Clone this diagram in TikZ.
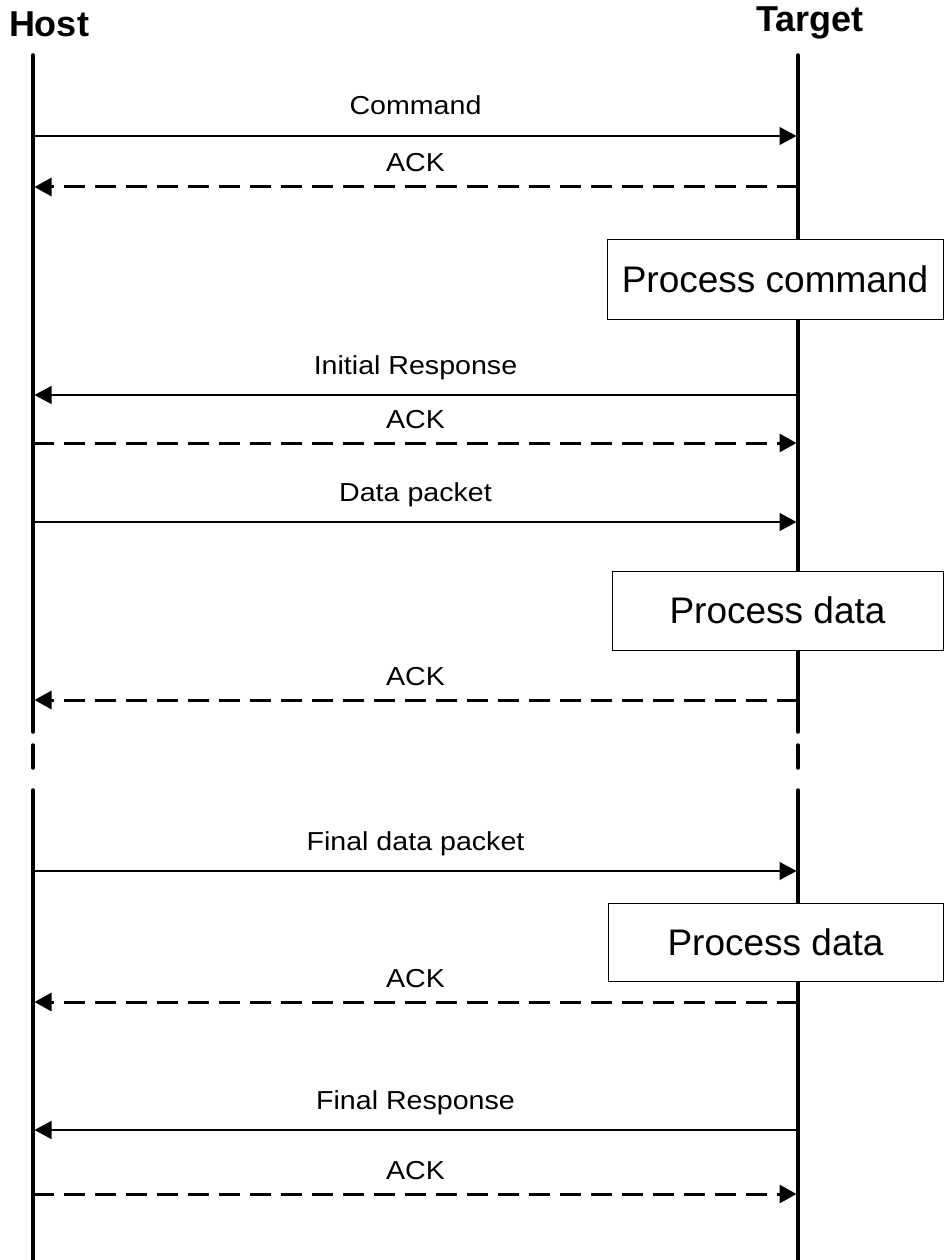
\documentclass[tikz,border=0pt]{standalone}
\usepackage{fontspec}
\setmainfont{Liberation Sans}
\newfontfamily\lblfont{Liberation Sans}[FakeStretch=1.1]
\usetikzlibrary{arrows.meta}

\begin{document}
\begin{tikzpicture}[
  x=1pt, y=-1pt,
  actor/.style={font=\fontsize{36}{40}\selectfont\bfseries, anchor=base, inner sep=0pt},
  life/.style={line width=3.5pt, line cap=round},
  task/.style={draw, line width=1pt, fill=white, minimum width=335pt, minimum height=79pt, inner sep=0pt, font=\fontsize{37}{42}\selectfont},
  call/.style={line width=1.2pt, -{Triangle[length=17pt, width=18pt]}, shorten >=1.5pt},
  reply/.style={line width=3pt, dash pattern=on 21pt off 10pt, -{Triangle[length=17pt, width=18pt]}, shorten >=1.5pt},
  msg/.style={font=\lblfont\fontsize{26}{30}\selectfont, anchor=base, inner sep=0pt, yshift=21pt},
  ackmsg/.style={font=\lblfont\fontsize{26}{30}\selectfont, anchor=base, inner sep=0pt, yshift=15pt}
]
\useasboundingbox (0,0) rectangle (945,1260);

% actors
\node[actor] (host) at (49,37) {Host};
\node[actor] (target) at (810,32) {Target};

% lifelines, with the break
\coordinate (htop) at (33,55);   \coordinate (ttop) at (798,55);
\coordinate (hcut) at (33,732);  \coordinate (tcut) at (798,732);
\coordinate (hdash) at (33,745); \coordinate (tdash) at (798,745);
\coordinate (hdend) at (33,768); \coordinate (tdend) at (798,768);
\coordinate (hback) at (33,790); \coordinate (tback) at (798,790);
\coordinate (hend) at (33,1262); \coordinate (tend) at (798,1262);
\draw[life] (htop) -- (hcut) (hdash) -- (hdend) (hback) -- (hend);
\draw[life] (ttop) -- (tcut) (tdash) -- (tdend) (tback) -- (tend);

% message rows
\foreach \n/\y in {cmd/136, ack1/187, resp/395, ack2/443, data/522,
                   ack3/700, last/871, ack4/1002, final/1130, ack5/1194}
  {\coordinate (h-\n) at (33,\y); \coordinate (t-\n) at (798,\y);}

% processing on the target
\node[task, minimum width=336pt, minimum height=80pt] (proc) at (775,279) {Process command};
\node[task, minimum width=331pt] (pdata) at (777.5,610.5) {Process data};
\node[task, minimum height=78pt] (pdata2) at (775.5,942) {Process data};

\draw[call] (h-cmd) -- node[msg]{Command} (t-cmd);
\draw[reply] (t-ack1) -- node[ackmsg]{ACK} (h-ack1);
\draw[call] (t-resp) -- node[msg]{Initial Response} (h-resp);
\draw[reply] (h-ack2) -- node[ackmsg]{ACK} (t-ack2);
\draw[call] (h-data) -- node[msg]{Data packet} (t-data);
\draw[reply] (t-ack3) -- node[ackmsg]{ACK} (h-ack3);
\draw[call] (h-last) -- node[msg]{Final data packet} (t-last);
\draw[reply] (t-ack4) -- node[ackmsg]{ACK} (h-ack4);
\draw[call] (t-final) -- node[msg]{Final Response} (h-final);
\draw[reply] (h-ack5) -- node[ackmsg]{ACK} (t-ack5);
\end{tikzpicture}
\end{document}
